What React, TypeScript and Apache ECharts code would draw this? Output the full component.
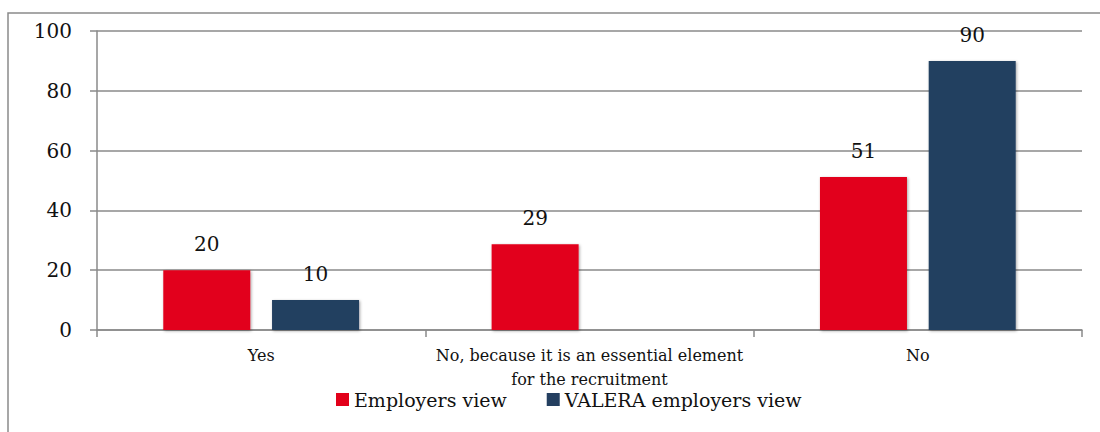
import React, { useEffect, useRef } from "react";
import * as echarts from "echarts";

const categories = [
  "Yes",
  "No, because it is an essential element\nfor the recruitment",
  "No",
];
const employersView = [20, 28.7, 51.2];
const valeraView: (number | null)[] = [10, null, 90];
const seriesNames = ["Employers view", "VALERA employers view"];
const yTicks = { min: 0, max: 100, interval: 20 };

const FONT = "DejaVu Serif";
const RED = "#E2001A";
const NAVY = "#243F60";
const GRAY = "#8A8A8A";

export default function App() {
  const ref = useRef<HTMLDivElement>(null);
  useEffect(() => {
    if (!ref.current) return;
    const chart = echarts.init(ref.current, null, { renderer: "svg" });
    const barStyle = (color: string) => ({
      color,
      shadowBlur: 3,
      shadowColor: "rgba(0,0,0,0.35)",
      shadowOffsetX: 1,
      shadowOffsetY: 1,
    });
    const label = {
      show: true,
      position: "top" as const,
      distance: 16,
      fontFamily: FONT,
      fontSize: 20,
      color: "#111",
      formatter: (p: any) => String(Math.round(p.value)),
    };
    chart.setOption({
      animation: false,
      backgroundColor: "#fff",
      textStyle: { fontFamily: FONT },
      graphic: [
        {
          type: "rect",
          shape: { x: 8, y: 13, width: 1100, height: 440 },
          style: { fill: "none", stroke: GRAY, lineWidth: 1.5 },
          silent: true,
        },
      ],
      legend: {
        data: seriesNames,
        left: 331,
        top: 385,
        itemWidth: 13,
        itemHeight: 13,
        itemGap: 40,
        icon: "rect",
        textStyle: { fontFamily: FONT, fontSize: 19, color: "#111" },
      },
      grid: { left: 97, right: 18, top: 31, bottom: 102, containLabel: false },
      xAxis: {
        type: "category",
        data: categories,
        axisLine: { lineStyle: { color: GRAY, width: 1.5 } },
        axisTick: { show: true, length: 7, alignWithLabel: false, interval: 0, lineStyle: { color: GRAY, width: 1.5 } },
        axisLabel: {
          interval: 0,
          margin: 13,
          fontFamily: FONT,
          fontSize: 16,
          color: "#111",
          lineHeight: 24,
        },
      },
      yAxis: {
        type: "value",
        min: yTicks.min,
        max: yTicks.max,
        interval: yTicks.interval,
        axisLine: { show: true, lineStyle: { color: GRAY, width: 1.5 } },
        axisTick: { show: true, length: 7, lineStyle: { color: GRAY, width: 1.5 } },
        splitLine: { show: true, lineStyle: { color: GRAY, width: 1.5 } },
        axisLabel: { margin: 25, fontFamily: FONT, fontSize: 20, color: "#111" },
      },
      series: [
        {
          name: seriesNames[0],
          type: "bar",
          data: employersView,
          barWidth: 87,
          barGap: "25%",
          itemStyle: barStyle(RED),
          label,
        },
        {
          name: seriesNames[1],
          type: "bar",
          data: valeraView,
          barWidth: 87,
          barGap: "25%",
          itemStyle: barStyle(NAVY),
          label,
        },
      ],
    });
    return () => chart.dispose();
  }, []);
  return (
    <div
      ref={ref}
      style={{ position: "fixed", left: 0, top: 0, width: 1100, height: 432 }}
    />
  );
}
